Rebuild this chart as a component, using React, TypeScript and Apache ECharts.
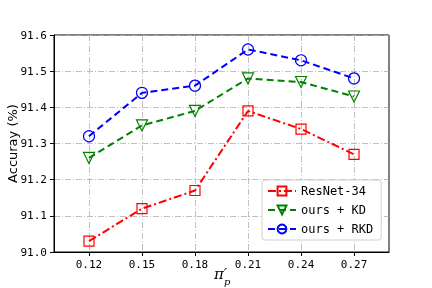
import React, { useEffect, useRef } from "react";
import * as echarts from "echarts";

const xValues = [0.12, 0.15, 0.18, 0.21, 0.24, 0.27];
const resnet34 = [91.03, 91.12, 91.17, 91.39, 91.34, 91.27];
const oursKD = [91.26, 91.35, 91.39, 91.48, 91.47, 91.43];
const oursRKD = [91.32, 91.44, 91.46, 91.56, 91.53, 91.48];
const seriesNames = ["ResNet-34", "ours + KD", "ours + RKD"];

const FONT = "DejaVu Sans Mono";

export default function App() {
  const ref = useRef<HTMLDivElement>(null);
  useEffect(() => {
    if (!ref.current) return;
    const chart = echarts.init(ref.current, null, { renderer: "svg" });
    const pair = (ys: number[]) => xValues.map((x, i) => [x, ys[i]]);
    const gridLine = { show: true, lineStyle: { color: "#b0b0b0", width: 0.8, type: [6, 2, 1, 2] as any } };
    const mk = (name: string, ys: number[], color: string, symbol: string, rotate: number, dash: any, size: number) => ({
      name,
      type: "line",
      data: pair(ys),
      symbol,
      symbolSize: size,
      symbolRotate: rotate,
      showAllSymbol: true,
      lineStyle: { color, width: 2, type: dash },
      itemStyle: { color: "rgba(255,255,255,0)", borderColor: color, borderWidth: 1.2 },
      emphasis: { disabled: true },
    });
    chart.setOption({
      animation: false,
      grid: {
        left: 54, right: 43, top: 35, bottom: 36,
        outerBoundsMode: "none", containLabel: false,
        show: true, borderColor: "#000", borderWidth: 1, backgroundColor: "transparent",
      },
      graphic: [
        { type: "text", left: 214, top: 266, style: { text: "π′", font: "italic 15px 'DejaVu Serif'", fill: "#000" } },
        { type: "text", left: 224, top: 276, style: { text: "p", font: "italic 10px 'DejaVu Serif'", fill: "#000" } },
      ],
      legend: {
        orient: "vertical",
        left: 262,
        top: 180,
        width: 120,
        itemWidth: 28,
        itemHeight: 11,
        itemGap: 7,
        padding: [5, 8, 5, 5],
        backgroundColor: "#fff",
        borderColor: "#d0d0d0",
        borderWidth: 1,
        borderRadius: 3,
        textStyle: { fontFamily: FONT, fontSize: 12, color: "#000" },
        data: seriesNames,
      },
      xAxis: {
        type: "value",
        min: 0.1002,
        max: 0.2898,
        axisLine: { show: true, onZero: false, lineStyle: { color: "#000" } },
        axisTick: { show: true, length: 4, customValues: xValues, lineStyle: { color: "#000" } },
        axisLabel: {
          customValues: xValues,
          formatter: (v: number) => v.toFixed(2),
          fontFamily: FONT,
          fontSize: 11,
          color: "#000",
          margin: 7,
        },
        splitLine: gridLine,
      },
      yAxis: {
        type: "value",
        min: 91.0,
        max: 91.6,
        interval: 0.1,
        name: "Accuray (%)",
        nameLocation: "middle",
        nameGap: 35,
        nameMoveOverlap: false,
        nameTextStyle: { fontFamily: "DejaVu Sans", fontSize: 13, color: "#000" },
        axisLine: { show: true, lineStyle: { color: "#000" } },
        axisTick: { show: true, length: 4, lineStyle: { color: "#000" } },
        axisLabel: {
          formatter: (v: number) => v.toFixed(1),
          fontFamily: FONT,
          fontSize: 11,
          color: "#000",
          margin: 7,
        },
        splitLine: gridLine,
      },
      series: [
        mk(seriesNames[0], resnet34, "#ff0000", "rect", 0, [8, 3, 2, 3], 10),
        mk(seriesNames[1], oursKD, "#008000", "triangle", 180, [7, 4], 11),
        mk(seriesNames[2], oursRKD, "#0000ff", "circle", 0, [7, 4], 11),
      ],
    });
    return () => chart.dispose();
  }, []);
  return <div ref={ref} style={{ position: "fixed", left: 0, top: 0, width: 432, height: 288 }} />;
}
